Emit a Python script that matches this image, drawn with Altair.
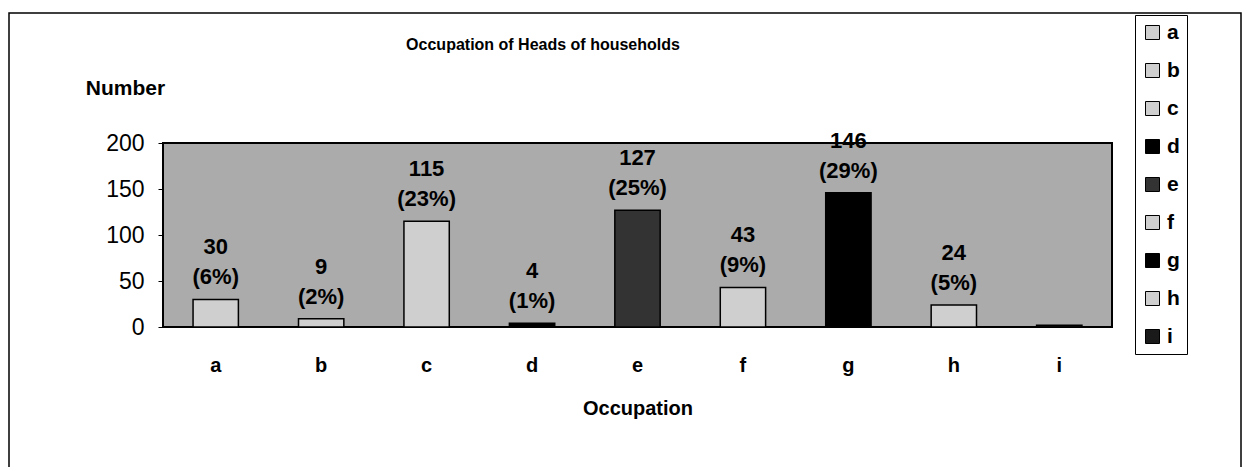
import altair as alt
import pandas as pd

categories = ["a", "b", "c", "d", "e", "f", "g", "h", "i"]
values = [30, 9, 115, 4, 127, 43, 146, 24, 2]
percents = [6, 2, 23, 1, 25, 9, 29, 5, None]
colors = ["#cfcfcf", "#cfcfcf", "#cfcfcf", "#000000", "#333333",
          "#cfcfcf", "#000000", "#cfcfcf", "#1a1a1a"]
chart_title = "Occupation of Heads of households"

labels = [f"{v}\n({p}%)" if p is not None else "" for v, p in zip(values, percents)]
df = pd.DataFrame({"cat": categories, "value": values, "label": labels})

FONT = "Liberation Sans"

xenc = alt.X("cat:N", sort=categories,
             scale=alt.Scale(paddingInner=0.57, paddingOuter=0.285),
             axis=alt.Axis(title="Occupation", labelAngle=0, ticks=False, domain=False,
                           labelFontSize=20, labelFontWeight="bold", labelFont=FONT,
                           labelColor="black", labelPadding=28,
                           titleFontSize=20, titleFont=FONT, titleFontWeight="bold",
                           titleColor="black", titlePadding=23))
yenc = alt.Y("value:Q", scale=alt.Scale(domain=[0, 200], nice=False),
             axis=alt.Axis(title="Number", values=[0, 50, 100, 150, 200], grid=False,
                           domain=False, tickSize=5, tickColor="black",
                           labelFontSize=23, labelFont=FONT, labelColor="black",
                           labelPadding=14,
                           titleAngle=0, titleX=-38, titleY=-55, titleAlign="center",
                           titleBaseline="middle", titleFontSize=21, titleFont=FONT,
                           titleFontWeight="bold", titleColor="black"))

bars = alt.Chart(df).mark_bar(stroke="black", strokeWidth=1.5).encode(
    x=xenc, y=yenc,
    color=alt.Color("cat:N", sort=categories,
                    scale=alt.Scale(domain=categories, range=colors),
                    legend=alt.Legend(title=None, orient="none", legendX=972, legendY=-128,
                                      symbolType="square", symbolSize=196,
                                      symbolStrokeColor="black", symbolStrokeWidth=1,
                                      labelFontSize=21, labelFont=FONT,
                                      labelFontWeight="bold", labelColor="black",
                                      rowPadding=16, labelOffset=4,
                                      strokeColor="black", fillColor="white",
                                      padding=7, cornerRadius=0))
)

text = alt.Chart(df).mark_text(lineBreak="\n", baseline="bottom", dy=-40,
                               fontSize=22, fontWeight="bold", font=FONT,
                               lineHeight=30, color="black").encode(
    x=alt.X("cat:N", sort=categories), y="value:Q", text="label:N")

title_mark = alt.Chart(pd.DataFrame({"t": [chart_title]})).mark_text(
    fontSize=16, fontWeight="bold", font=FONT, color="black",
    align="center", baseline="middle").encode(
    x=alt.value(380), y=alt.value(-98), text="t:N")

frame = alt.Chart(pd.DataFrame({"k": [0]})).mark_rect(
    fill=None, stroke="black", strokeWidth=1.5).encode(
    x=alt.value(-154), x2=alt.value(1078), y=alt.value(-130), y2=alt.value(329))

chart = alt.layer(frame, bars, text, title_mark).properties(
    width=949, height=184,
    padding={"left": 155, "top": 135, "right": 131, "bottom": 140},
    autosize=alt.AutoSizeParams(type="none"),
).configure_view(fill="#ababab", stroke="black", strokeWidth=2)

chart.save("out.html", embed_options={"renderer": "svg", "actions": False})
